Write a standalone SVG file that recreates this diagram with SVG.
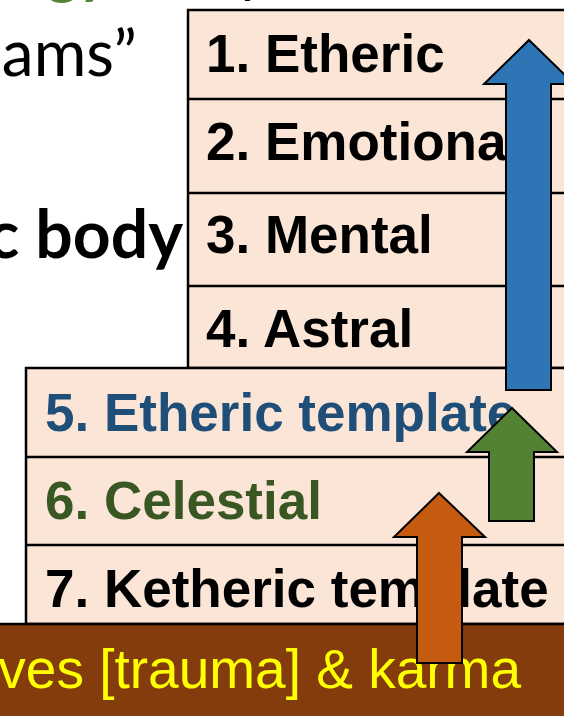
<svg xmlns="http://www.w3.org/2000/svg" width="564" height="716" viewBox="0 0 564 716">
  <style>
    .row { fill: #fbe5d6; stroke: #000; stroke-width: 2.5; }
    .div { stroke: #000; stroke-width: 2.5; }
    .lbl { font-family: "Liberation Sans", Arial, sans-serif; font-weight: bold; font-size: 53px; }
    .side { font-family: Lato, "Open Sans", sans-serif; fill: #000; }
    .arrow { stroke: #000; stroke-width: 2; stroke-linejoin: miter; }
  </style>
  <rect width="564" height="716" fill="#fff"/>
  <g id="side-text">
    <text class="side" x="110" y="-8" font-size="60" font-weight="bold" text-anchor="end" style="fill:#548235">gy</text>
    <text class="side" x="268" y="-9" font-size="60" text-anchor="end">y</text>
    <text class="side" x="137" y="76" font-size="64" text-anchor="end">ams”</text>
    <text class="side" x="183" y="258" font-size="66" font-weight="bold" text-anchor="end">c body</text>
  </g>
  <g id="upper-bodies">
    <rect class="row" x="188" y="10" width="420" height="358"/>
    <line class="div" x1="188" y1="99" x2="600" y2="99"/>
    <line class="div" x1="188" y1="193" x2="600" y2="193"/>
    <line class="div" x1="188" y1="286" x2="600" y2="286"/>
  </g>
  <g id="n1"><text class="lbl" x="206" y="72">1. Etheric</text></g>
  <g id="n2"><text class="lbl" x="206" y="160">2. Emotional</text></g>
  <g id="n3"><text class="lbl" x="206" y="253">3. Mental</text></g>
  <g id="n4"><text class="lbl" x="206" y="347">4. Astral</text></g>
  <g id="lower-bodies">
    <rect class="row" x="26" y="368" width="580" height="256"/>
    <line class="div" x1="26" y1="457" x2="600" y2="457"/>
    <line class="div" x1="26" y1="545" x2="600" y2="545"/>
  </g>
  <g id="n5"><text class="lbl" x="45" y="431" fill="#1f4e79">5. Etheric template</text></g>
  <g id="n6"><text class="lbl" x="45" y="519" fill="#385723">6. Celestial</text></g>
  <g id="n7"><text class="lbl" x="45" y="607" fill="#000">7. Ketheric template</text></g>
  <g id="band">
    <rect x="0" y="624" width="564" height="92" fill="#843c0c"/>
    <line class="div" x1="0" y1="624" x2="564" y2="624"/>
    <text x="521" y="688" font-family="'Liberation Sans', Arial, sans-serif" font-size="55" fill="#ffff00" text-anchor="end">ves [trauma] &amp; karma</text>
  </g>
  <g id="connectors">
    <polygon class="arrow" fill="#2e75b6" points="529,40 574,84 551,84 551,390 506,390 506,84 484,84"/>
    <polygon class="arrow" fill="#548235" points="512,408 557,452 534,452 534,521 489,521 489,452 467,452"/>
    <polygon class="arrow" fill="#c55a11" points="439,493 485,537 462,537 462,663 417,663 417,537 394,537"/>
  </g>
</svg>
